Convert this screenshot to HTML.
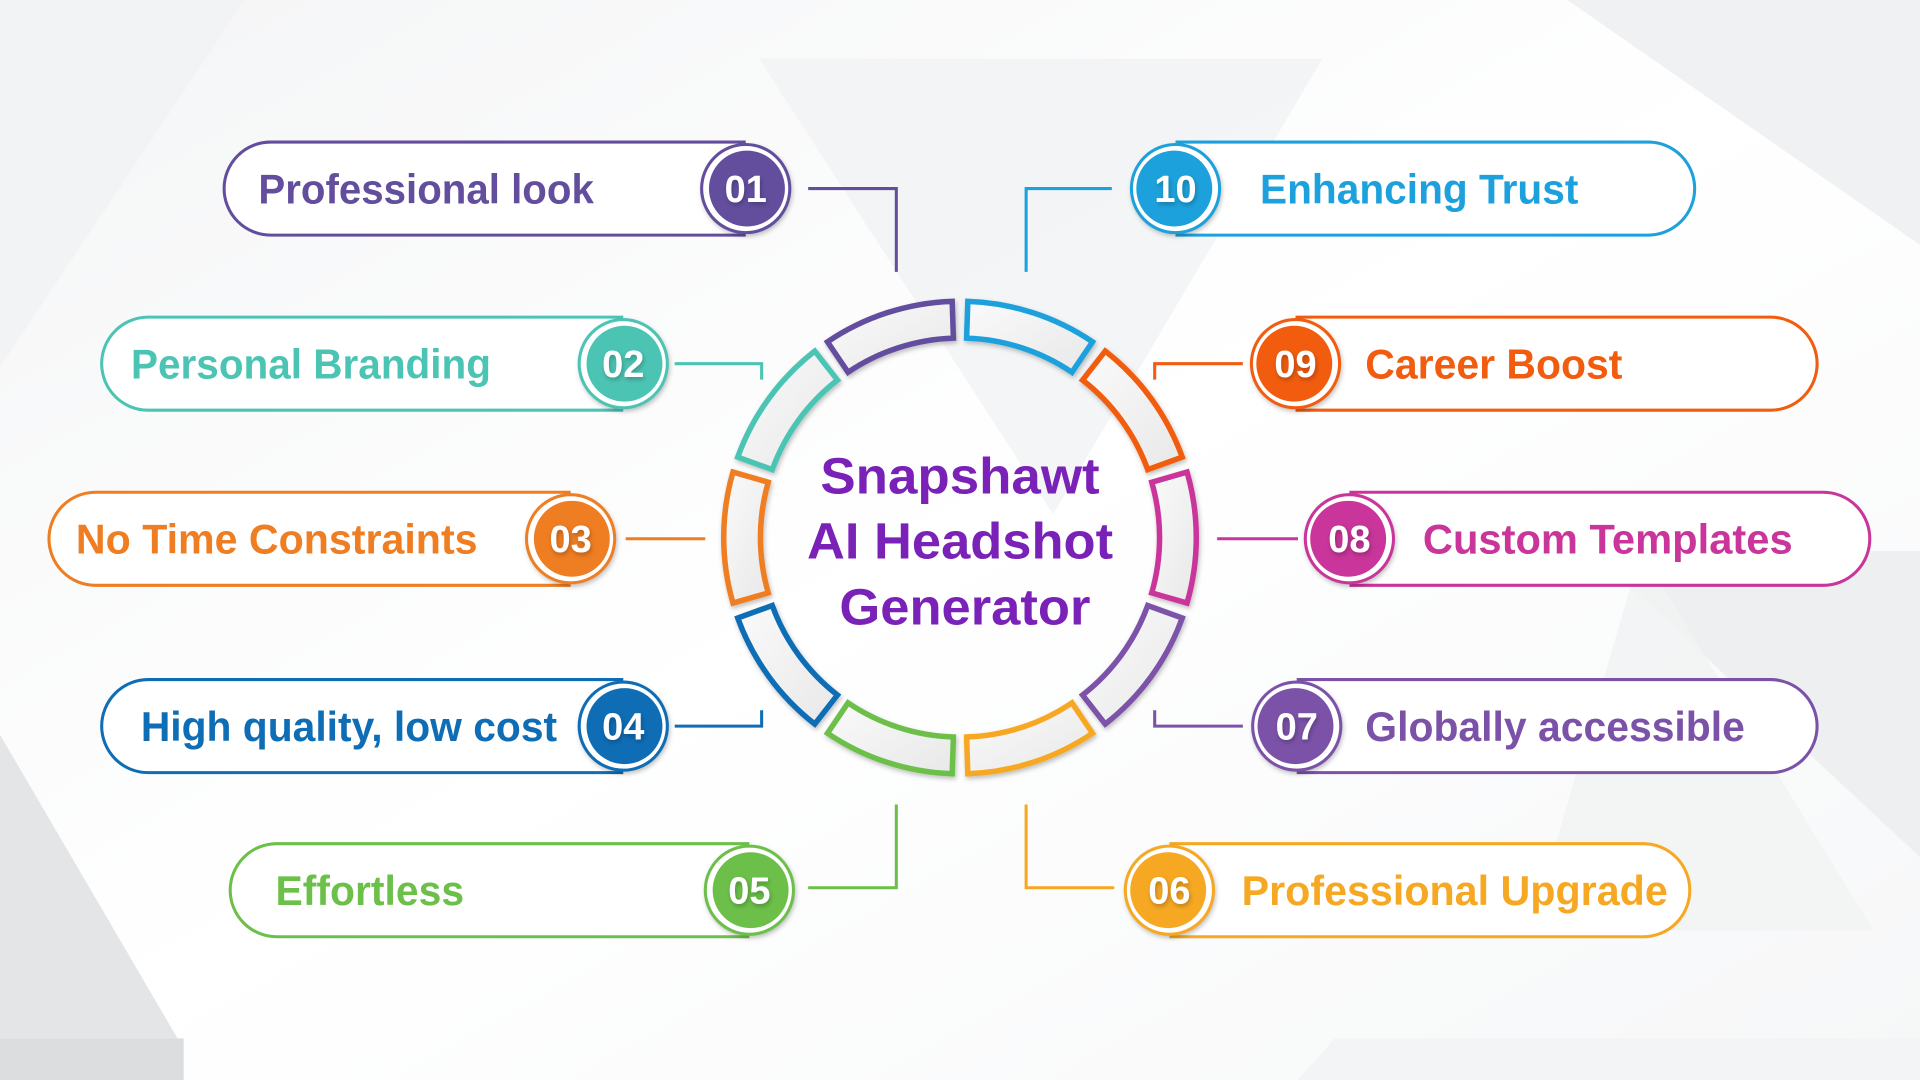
<!DOCTYPE html>
<html><head><meta charset="utf-8"><style>
html,body{margin:0;padding:0;background:#fff;}
svg{display:block;}
text{font-family:"Liberation Sans",sans-serif;}
</style></head><body>
<svg id="s" width="1920" height="1080" viewBox="0 0 1568 882" xmlns="http://www.w3.org/2000/svg">
<defs>
<linearGradient id="bg" x1="0" y1="0" x2="1" y2="1"><stop offset="0" stop-color="#f4f5f6"/><stop offset="0.5" stop-color="#ffffff"/><stop offset="1" stop-color="#f6f7f8"/></linearGradient>
<linearGradient id="seg" x1="0" y1="0" x2="1" y2="1"><stop offset="0" stop-color="#fafafa"/><stop offset="1" stop-color="#e8e8e8"/></linearGradient>
<filter id="sh" x="-20%" y="-20%" width="140%" height="140%"><feDropShadow dx="1" dy="2" stdDeviation="2" flood-color="#000" flood-opacity="0.25"/></filter>
</defs>
<rect width="1568" height="882" fill="url(#bg)"/>
<polygon points="0,0 200,0 0,300" fill="#f2f3f4"/>
<polygon points="620,48 1080,48 860,420" fill="#f0f1f2" opacity="0.7"/>
<polygon points="1280,0 1568,0 1568,200" fill="#f0f1f2"/>
<polygon points="1300,450 1568,450 1568,700" fill="#eeeff0"/>
<polygon points="0,600 145,848 0,848" fill="#e4e5e7"/>
<rect x="0" y="848" width="150" height="34" fill="#dcdddf"/>
<polygon points="1090,848 1568,848 1568,882 1060,882" fill="#f3f4f5"/>
<polygon points="1340,450 1530,760 1250,760" fill="#f1f2f3" opacity="0.8"/>
<g id="ring"></g>
<g id="main"></g>
<text x="784" y="403" font-size="42" font-weight="bold" fill="#7a21b7" text-anchor="middle" textLength="228" lengthAdjust="spacingAndGlyphs">Snapshawt</text>
<text x="784" y="456" font-size="42" font-weight="bold" fill="#7a21b7" text-anchor="middle" textLength="250" lengthAdjust="spacingAndGlyphs">AI Headshot</text>
<text x="788" y="510" font-size="42" font-weight="bold" fill="#7a21b7" text-anchor="middle" textLength="205" lengthAdjust="spacingAndGlyphs">Generator</text>
</svg>
<script>
var NS="http://www.w3.org/2000/svg";
function el(t,a,p,txt){var e=document.createElementNS(NS,t);for(var k in a)e.setAttribute(k,a[k]);if(txt)e.textContent=txt;(p||document.getElementById('main')).appendChild(e);return e;}
// ring
var cx=784,cy=439,R=193,r=163,g=1.9;
var cols=["#1da1dc","#f25c0f","#c9359a","#7b52a8","#f7a823","#6cc04a","#0f6db5","#ef7d22","#4cc4b4","#634e9e"];
var ring=document.getElementById('ring');
for(var i=0;i<10;i++){
 var a1=(90-36*i-g)*Math.PI/180,a2=(90-36*(i+1)+g)*Math.PI/180;
 function P(rad,a){return (cx+rad*Math.cos(a)).toFixed(1)+","+(cy-rad*Math.sin(a)).toFixed(1);}
 var d="M"+P(R,a1)+" A"+R+","+R+" 0 0 1 "+P(R,a2)+" L"+P(r,a2)+" A"+r+","+r+" 0 0 0 "+P(r,a1)+"Z";
 el('path',{d:d,fill:"url(#seg)",stroke:cols[i],"stroke-width":4.5,"stroke-linejoin":"miter",filter:"url(#sh)"},ring);
}
// items: [num,label,color,side,badgeX,badgeY,pillFarX,textX,textW,conn]
var items=[
["01","Professional look","#634e9e","L",609,154,183,211,274,[[660,154],[732,154],[732,222]]],
["02","Personal Branding","#4cc4b4","L",509,297,83,107,294,[[551,297],[622,297],[622,310]]],
["03","No Time Constraints","#ef7d22","L",466,440,40,62,328,[[511,440],[576,440]]],
["04","High quality, low cost","#0f6db5","L",509,593,83,115,340,[[551,593],[622,593],[622,580]]],
["05","Effortless","#6cc04a","L",612,727,188,225,154,[[660,725],[732,725],[732,657]]],
["10","Enhancing Trust","#1da1dc","R",960,154,1384,1029,260,[[908,154],[838,154],[838,222]]],
["09","Career Boost","#f25c0f","R",1058,297,1484,1115,210,[[1015,297],[943,297],[943,310]]],
["08","Custom Templates","#c9359a","R",1102,440,1527,1162,302,[[1060,440],[994,440]]],
["07","Globally accessible","#7b52a8","R",1059,593,1484,1115,310,[[1015,593],[943,593],[943,580]]],
["06","Professional Upgrade","#f7a823","R",955,727,1380,1014,348,[[910,725],[838,725],[838,657]]]
];
items.forEach(function(it){
 var c=it[2],bx=it[4],by=it[5],far=it[6],h=38,top=by-h,bot=by+h,d;
 if(it[3]=="L"){
  d="M"+bx+","+top+" L"+(far+h)+","+top+" A"+h+","+h+" 0 0 0 "+(far+h)+","+bot+" L"+bx+","+bot;
 }else{
  d="M"+bx+","+top+" L"+(far-h)+","+top+" A"+h+","+h+" 0 0 1 "+(far-h)+","+bot+" L"+bx+","+bot;
 }
 el('path',{d:d,fill:"#fff",stroke:c,"stroke-width":2.5});
 el('circle',{cx:bx,cy:by,r:37,fill:"#fff",filter:"url(#sh)"});
 el('circle',{cx:bx,cy:by,r:36,fill:"none",stroke:c,"stroke-width":2.5});
 el('circle',{cx:bx+(it[3]=="L"?1:-1),cy:by,r:31,fill:c});
 el('text',{x:bx,y:by+11,"font-size":31,"font-weight":"bold",fill:"#fff","text-anchor":"middle",filter:"url(#sh)"},null,it[0]);
 el('text',{x:it[7],y:by+12,"font-size":34,"font-weight":"bold",fill:c,textLength:it[8],lengthAdjust:"spacingAndGlyphs"},null,it[1]);
 var pts=it[9].map(function(p){return p.join(",");}).join(" ");
 el('polyline',{points:pts,fill:"none",stroke:c,"stroke-width":2.5});
});
</script>
</body></html>
